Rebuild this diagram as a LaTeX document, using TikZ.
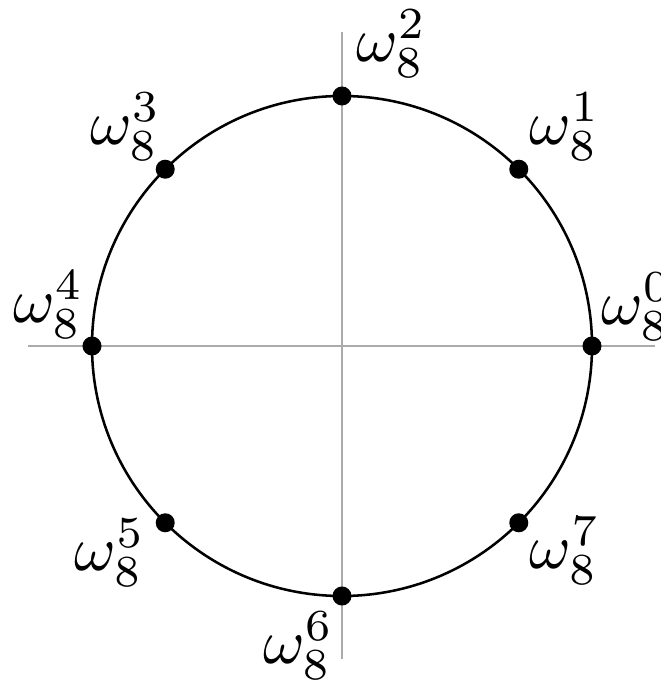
\documentclass[tikz,border=0pt]{standalone}
\begin{document}
\begin{tikzpicture}[x=39.4pt,y=39.4pt,
  axis/.style={draw=black!33,line width=0.45pt},
  ring/.style={draw=black,line width=0.4pt},
  dot/.style={circle,fill=black,inner sep=0pt,minimum size=3pt},
  lab/.style={inner sep=0pt,anchor=center}]
\clip (-1.368,-1.344) rectangle (1.276,1.384);
\useasboundingbox (-1.368,-1.344) rectangle (1.276,1.384);
\coordinate (xl) at (-1.256,0);
\coordinate (xr) at (1.252,0);
\coordinate (yb) at (0,-1.252);
\coordinate (yt) at (0,1.256);
\draw[axis] (xl) -- (xr);
\draw[axis] (yb) -- (yt);
\node[circle,minimum size=78.8pt,inner sep=0pt,ring] (c) at (0,0) {};
\foreach \k in {0,...,7}{
  \node[dot] (p\k) at (\k*45:1) {};
}
\node[lab] (l0) at (1.178,0.156) {$\omega_8^0$};
\node[lab] (l1) at (0.892,0.876) {$\omega_8^1$};
\node[lab] (l2) at (0.198,1.210) {$\omega_8^2$};
\node[lab] (l3) at (-0.866,0.876) {$\omega_8^3$};
\node[lab] (l4) at (-1.174,0.164) {$\omega_8^4$};
\node[lab] (l5) at (-0.928,-0.826) {$\omega_8^5$};
\node[lab] (l6) at (-0.174,-1.2) {$\omega_8^6$};
\node[lab] (l7) at (0.892,-0.818) {$\omega_8^7$};
\end{tikzpicture}
\end{document}
